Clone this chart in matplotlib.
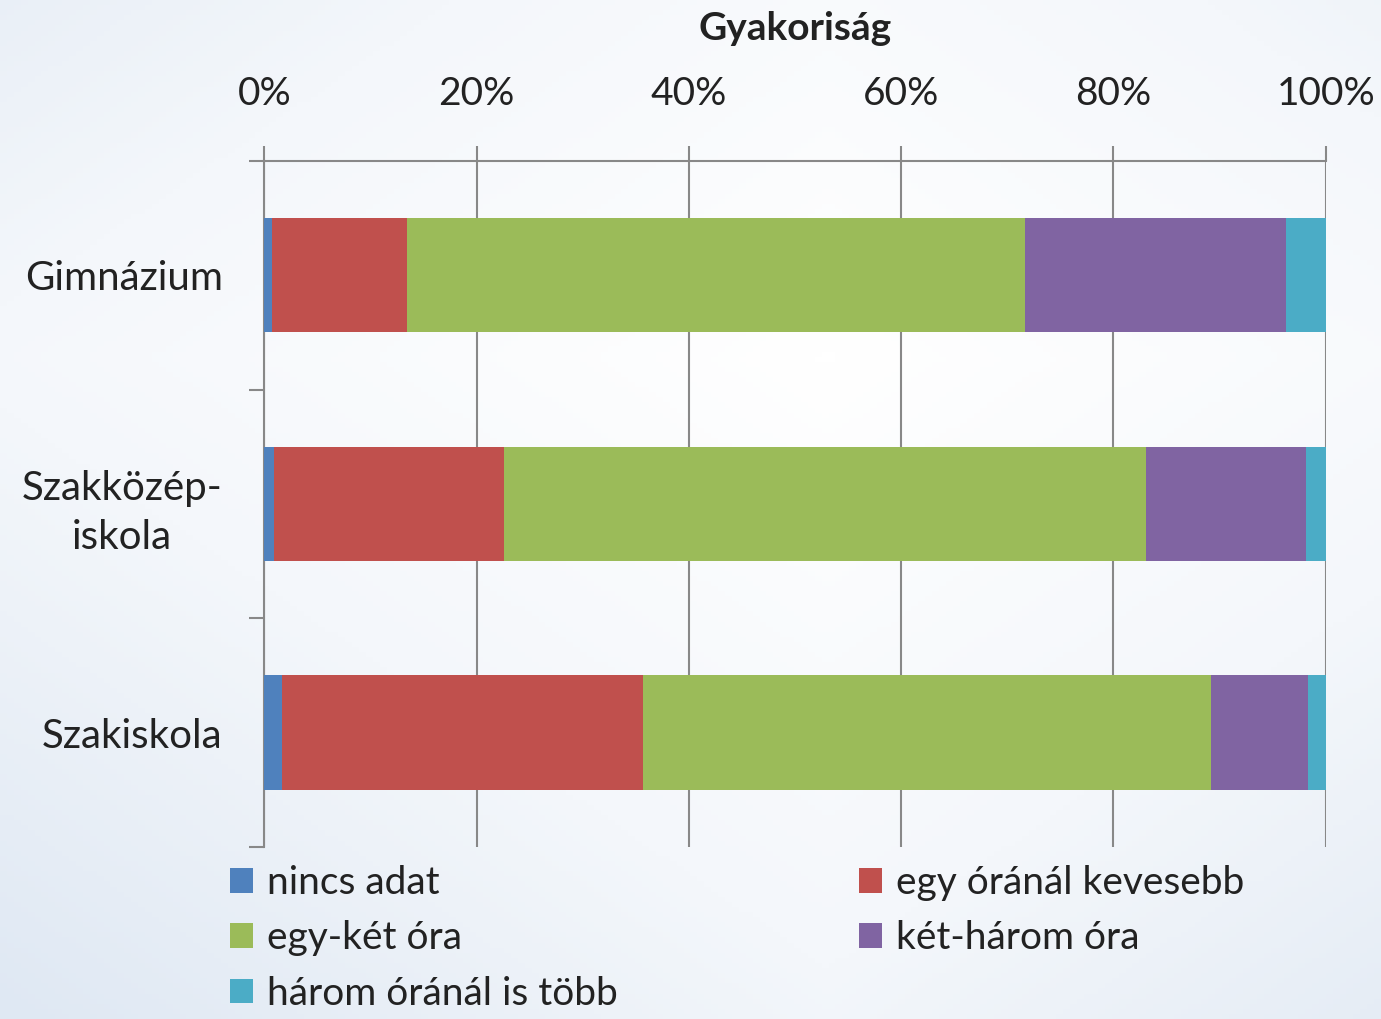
import numpy as np
import matplotlib
matplotlib.use("Agg")
import matplotlib.pyplot as plt
from matplotlib.colors import LinearSegmentedColormap

plt.rcParams['font.family'] = ['Lato', 'DejaVu Sans']

categories = ["Gimnázium", "Szakközép-\niskola", "Szakiskola"]
series = ["nincs adat", "egy óránál kevesebb", "egy-két óra", "két-három óra", "három óránál is több"]
nincs_adat = [0.7, 0.9, 1.7]
egy_oranal_kevesebb = [12.7, 21.7, 34.0]
egy_ket_ora = [58.3, 60.5, 53.5]
ket_harom_ora = [24.6, 15.0, 9.1]
harom_oranal_tobb = [3.7, 1.9, 1.7]
colors = ["#4F81BD", "#C0504D", "#9BBB59", "#8064A2", "#4BACC6"]

values = [nincs_adat, egy_oranal_kevesebb, egy_ket_ora, ket_harom_ora, harom_oranal_tobb]

fig = plt.figure(figsize=(13.81, 10.19), dpi=100)

# light slide-like background
bg = fig.add_axes([0, 0, 1, 1], zorder=-10)
xx, yy = np.meshgrid(np.linspace(0, 1, 200), np.linspace(0, 1, 200))
grad = np.clip(0.55 * np.abs(xx - 0.6) + 0.6 * np.abs(yy - 0.35), 0, 1)
cmap = LinearSegmentedColormap.from_list("bg", ["#ffffff", "#f4f7fb", "#dfe8f3"])
bg.imshow(grad, cmap=cmap, aspect="auto", extent=[0, 1, 0, 1])
bg.axis("off")

ax = fig.add_axes([0.1914, 0.1688, 0.7686, 0.6732])
ax.set_facecolor("none")

y = np.arange(len(categories))
left = np.zeros(len(categories))
bars = []
for name, vals, c in zip(series, values, colors):
    b = ax.barh(y, vals, left=left, height=0.5, color=c, label=name, zorder=3)
    bars.append(b)
    left += np.array(vals)

ax.set_xlim(0, 100)
ax.set_ylim(len(categories) - 0.5, -0.5)

ax.xaxis.tick_top()
ax.set_xticks(np.arange(0, 101, 20))
ax.set_xticklabels([f"{v}%" for v in range(0, 101, 20)])
ax.tick_params(axis="x", which="major", direction="out", length=11, width=1.5,
               color="#888888", labelsize=28, pad=24, labelcolor="#222222")
ax.grid(axis="x", color="#888888", linewidth=1.5, zorder=0)

ax.set_yticks(y)
ax.set_yticklabels(categories, multialignment="center", linespacing=1.4)
ax.set_yticks(np.arange(-0.5, len(categories)), minor=True)
ax.tick_params(axis="y", which="major", length=0, labelsize=29, pad=30, labelcolor="#222222")
ax.tick_params(axis="y", which="minor", direction="out", length=11, width=1.5, color="#888888")

for s in ["right", "bottom"]:
    ax.spines[s].set_visible(False)
for s in ["left", "top"]:
    ax.spines[s].set_color("#888888")
    ax.spines[s].set_linewidth(1.5)

fig.text(0.576, 0.972, "Gyakoriság", ha="center", va="center", fontsize=28,
         fontweight="bold", color="#222222")

order = [0, 2, 4, 1, 3]
handles = [bars[i] for i in order]
labels = [series[i] for i in order]
fig.legend(handles, labels, loc="upper left", bbox_to_anchor=(0.1413, 0.1856), ncol=2,
           frameon=False, fontsize=28, handlelength=0.6, handleheight=0.6,
           handletextpad=0.35, columnspacing=6.2, labelspacing=0.5, labelcolor="#222222")

fig.savefig("out.png", dpi=100)
